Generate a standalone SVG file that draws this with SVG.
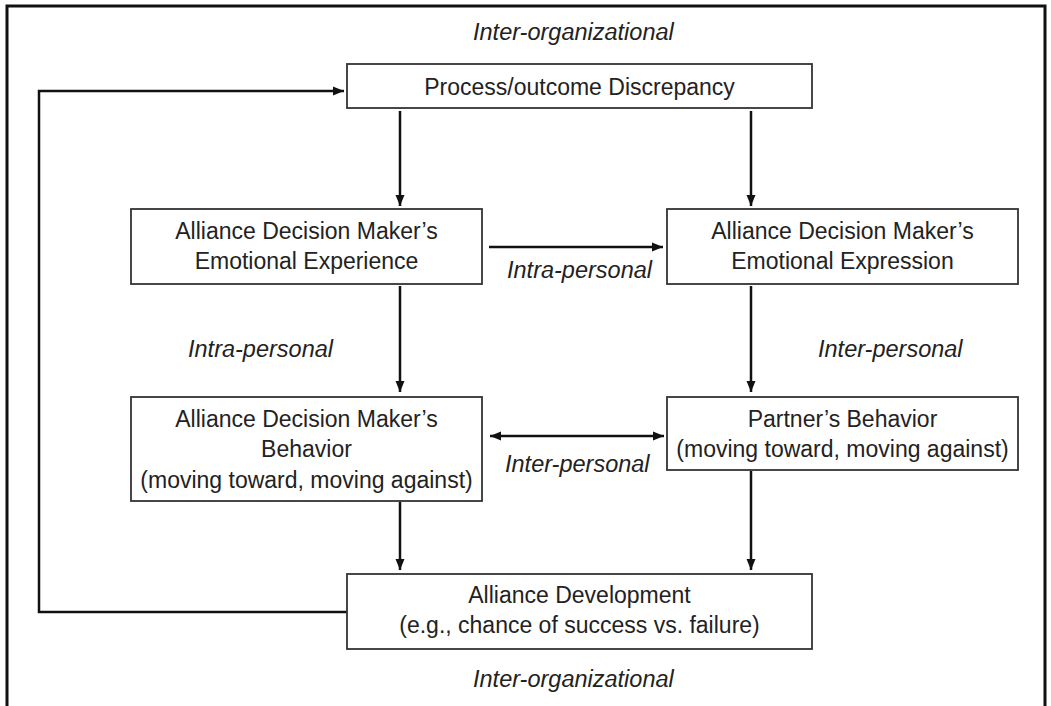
<svg xmlns="http://www.w3.org/2000/svg" width="1051" height="706" viewBox="0 0 1051 706">
<style>
.box{fill:#fff;stroke:#333;stroke-width:1.8}
.t{font-family:"Liberation Sans",Arial,sans-serif;font-size:23px;fill:#222;text-anchor:middle}
.lbl{font-family:"Liberation Sans",Arial,sans-serif;font-size:23.5px;font-style:italic;fill:#222}
.c{fill:none;stroke:#111;stroke-width:2.5}
</style>
<defs>
<marker id="ah" markerUnits="userSpaceOnUse" markerWidth="12" markerHeight="10" refX="11" refY="5" orient="auto-start-reverse">
<path d="M0,0.5 L11,5 L0,9.5 z" fill="#111"/>
</marker>
</defs>
<rect x="0" y="0" width="1051" height="706" fill="#fff"/>
<rect x="7" y="6" width="1038" height="730" fill="none" stroke="#111" stroke-width="3"/>

<g id="connectors">
<line class="c" x1="400" y1="111" x2="400" y2="206" marker-end="url(#ah)"/>
<line class="c" x1="751" y1="111" x2="751" y2="206" marker-end="url(#ah)"/>
<line class="c" x1="489" y1="247" x2="663" y2="247" marker-end="url(#ah)"/>
<line class="c" x1="400" y1="286" x2="400" y2="392" marker-end="url(#ah)"/>
<line class="c" x1="751" y1="286" x2="751" y2="392" marker-end="url(#ah)"/>
<line class="c" x1="490" y1="436" x2="664" y2="436" marker-start="url(#ah)" marker-end="url(#ah)"/>
<line class="c" x1="400" y1="502" x2="400" y2="570" marker-end="url(#ah)"/>
<line class="c" x1="751" y1="471" x2="751" y2="570" marker-end="url(#ah)"/>
<polyline class="c" points="347,612 39,612 39,91 344,91" marker-end="url(#ah)"/>
</g>

<g id="labels">
<text class="lbl" x="473" y="40">Inter-organizational</text>
<text class="lbl" x="507" y="278">Intra-personal</text>
<text class="lbl" x="188" y="357">Intra-personal</text>
<text class="lbl" x="818" y="357">Inter-personal</text>
<text class="lbl" x="505" y="472">Inter-personal</text>
<text class="lbl" x="473" y="687">Inter-organizational</text>
</g>

<g id="process">
<rect class="box" x="347" y="64" width="465" height="44"/>
<text class="t" x="579.5" y="95">Process/outcome Discrepancy</text>
</g>
<g id="experience">
<rect class="box" x="131" y="209" width="351" height="75"/>
<text class="t" x="306.5" y="239">Alliance Decision Maker’s</text>
<text class="t" x="306.5" y="269">Emotional Experience</text>
</g>
<g id="expression">
<rect class="box" x="667" y="209" width="351" height="75"/>
<text class="t" x="842.5" y="239">Alliance Decision Maker’s</text>
<text class="t" x="842.5" y="269">Emotional Expression</text>
</g>
<g id="dm-behavior">
<rect class="box" x="131" y="397" width="351" height="104"/>
<text class="t" x="306.5" y="427">Alliance Decision Maker’s</text>
<text class="t" x="306.5" y="457">Behavior</text>
<text class="t" x="306.5" y="488">(moving toward, moving against)</text>
</g>
<g id="partner-behavior">
<rect class="box" x="667" y="397" width="351" height="73"/>
<text class="t" x="842.5" y="427">Partner’s Behavior</text>
<text class="t" x="842.5" y="457">(moving toward, moving against)</text>
</g>
<g id="development">
<rect class="box" x="347" y="574" width="465" height="75"/>
<text class="t" x="579.5" y="603">Alliance Development</text>
<text class="t" x="579.5" y="633">(e.g., chance of success vs. failure)</text>
</g>
</svg>
